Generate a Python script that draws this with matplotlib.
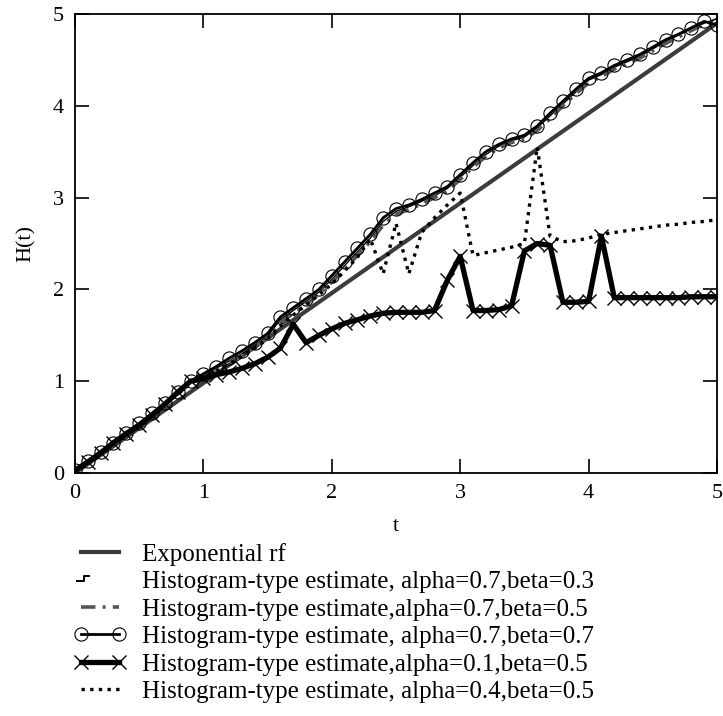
import matplotlib
matplotlib.use("Agg")
import matplotlib.pyplot as plt
import numpy as np
from matplotlib.lines import Line2D
from matplotlib.legend_handler import HandlerBase

plt.rcParams['font.family'] = ['Liberation Serif', 'DejaVu Serif']

# time grid of the histogram-type estimates
t = np.linspace(0, 5, 51)

# exponential reference cumulative hazard
exp_t = [0.0, 5.0]
exp_h = [0.0, 4.9]

# alpha=0.7, beta=0.3
h_a07_b03 = [0.03, 0.12, 0.22, 0.33, 0.43, 0.53, 0.64, 0.75, 0.87, 0.99,
             1.06, 1.14, 1.22, 1.30, 1.39, 1.49, 1.67, 1.77, 1.87, 1.97,
             2.11, 2.26, 2.41, 2.56, 2.74, 2.85, 2.90, 2.96, 3.02, 3.10,
             3.22, 3.35, 3.47, 3.56, 3.62, 3.66, 3.76, 3.89, 4.02, 4.15,
             4.28, 4.34, 4.42, 4.48, 4.54, 4.62, 4.70, 4.77, 4.84, 4.90,
             4.95]

# alpha=0.7, beta=0.5
h_a07_b05 = [0.02, 0.12, 0.22, 0.32, 0.42, 0.52, 0.63, 0.74, 0.86, 0.98,
             1.05, 1.12, 1.20, 1.28, 1.37, 1.47, 1.64, 1.74, 1.84, 1.95,
             2.08, 2.22, 2.37, 2.52, 2.70, 2.82, 2.87, 2.93, 3.00, 3.07,
             3.20, 3.33, 3.45, 3.54, 3.60, 3.64, 3.73, 3.86, 4.00, 4.13,
             4.25, 4.32, 4.40, 4.46, 4.52, 4.60, 4.68, 4.75, 4.82, 4.89,
             4.92]

# alpha=0.7, beta=0.7
h_a07_b07 = [0.03, 0.13, 0.23, 0.33, 0.44, 0.54, 0.65, 0.76, 0.88, 1.00,
             1.08, 1.16, 1.25, 1.33, 1.42, 1.52, 1.70, 1.80, 1.90, 2.00,
             2.15, 2.30, 2.45, 2.60, 2.78, 2.88, 2.92, 2.98, 3.05, 3.12,
             3.25, 3.38, 3.50, 3.58, 3.64, 3.68, 3.78, 3.92, 4.05, 4.18,
             4.30, 4.36, 4.44, 4.50, 4.56, 4.64, 4.72, 4.78, 4.85, 4.92,
             4.88]

# alpha=0.1, beta=0.5
h_a01_b05 = [0.03, 0.12, 0.22, 0.33, 0.43, 0.52, 0.63, 0.75, 0.88, 1.00,
             1.03, 1.07, 1.10, 1.14, 1.19, 1.26, 1.36, 1.62, 1.42, 1.50,
             1.57, 1.63, 1.67, 1.71, 1.74, 1.75, 1.75, 1.75, 1.77, 2.10,
             2.36, 1.77, 1.77, 1.78, 1.82, 2.42, 2.50, 2.48, 1.86, 1.86,
             1.87, 2.58, 1.91, 1.91, 1.91, 1.91, 1.91, 1.91, 1.92, 1.92,
             1.92]

# alpha=0.4, beta=0.5
h_a04_b05 = [0.03, 0.12, 0.22, 0.32, 0.42, 0.52, 0.63, 0.74, 0.86, 0.98,
             1.04, 1.11, 1.19, 1.27, 1.36, 1.46, 1.60, 1.72, 1.83, 1.94,
             2.06, 2.20, 2.35, 2.55, 2.17, 2.72, 2.17, 2.62, 2.78, 2.92,
             3.05, 2.37, 2.40, 2.43, 2.46, 2.50, 3.55, 2.58, 2.52, 2.53,
             2.56, 2.60, 2.62, 2.64, 2.66, 2.68, 2.70, 2.71, 2.73, 2.74,
             2.76]

labels = ["Exponential rf",
          "Histogram-type estimate, alpha=0.7,beta=0.3",
          "Histogram-type estimate,alpha=0.7,beta=0.5",
          "Histogram-type estimate, alpha=0.7,beta=0.7",
          "Histogram-type estimate,alpha=0.1,beta=0.5",
          "Histogram-type estimate, alpha=0.4,beta=0.5"]


class StepHandler(HandlerBase):
    # small step glyph drawn at the left of the legend slot
    def create_artists(self, legend, orig_handle, xdescent, ydescent,
                       width, height, fontsize, trans):
        x0 = -xdescent + width * 0.08
        yc = -ydescent + height / 2
        xs = [x0, x0 + width * 0.12, x0 + width * 0.12, x0 + width * 0.22]
        ys = [yc - height * 0.08, yc - height * 0.08, yc + height * 0.18, yc + height * 0.18]
        return [Line2D(xs, ys, color='k', lw=1.4, transform=trans)]


fig = plt.figure(figsize=(7.23, 7.16), dpi=100)
ax = fig.add_axes([0.1037, 0.3394, 0.888, 0.641])

l0, = ax.plot(exp_t, exp_h, color='#3c3c3c', lw=3.0, zorder=2)
l1, = ax.plot(t, h_a07_b03, color='k', lw=1.0, zorder=3)
l2, = ax.plot(t, h_a07_b05, color='#555555', lw=2.6, ls=(0, (4, 2, 0.8, 2)), zorder=3)
l3, = ax.plot(t, h_a07_b07, color='k', lw=2.0, marker='o', ms=9.5,
              mfc='none', mec='k', mew=0.8, zorder=4)
l4, = ax.plot(t, h_a01_b05, color='k', lw=3.8, marker='x', ms=10,
              mew=1.0, zorder=5)
l5, = ax.plot(t, h_a04_b05, color='k', lw=2.4, ls=(0, (1, 1.6)), zorder=6)

ax.set_xlim(0, 5)
ax.set_ylim(0, 5)
ax.set_xticks([0, 1, 2, 3, 4, 5])
ax.set_yticks([0, 1, 2, 3, 4, 5])
ax.tick_params(direction='in', length=10, width=1.2, labelsize=16,
               top=True, right=True, pad=8)
for s in ax.spines.values():
    s.set_linewidth(1.3)
ax.set_xlabel("t", fontsize=16, labelpad=10)
ax.set_ylabel("H(t)", fontsize=16, labelpad=12)

proxy = Line2D([], [], color='k')
fig.legend([l0, proxy, l2, l3, l4, l5], labels, loc='upper left',
           bbox_to_anchor=(0.101, 0.242), frameon=False, fontsize=18,
           handlelength=2.15, handletextpad=0.62, labelspacing=0.2,
           borderpad=0, borderaxespad=0, numpoints=2,
           handler_map={proxy: StepHandler()})

fig.savefig("out.png", dpi=100)
